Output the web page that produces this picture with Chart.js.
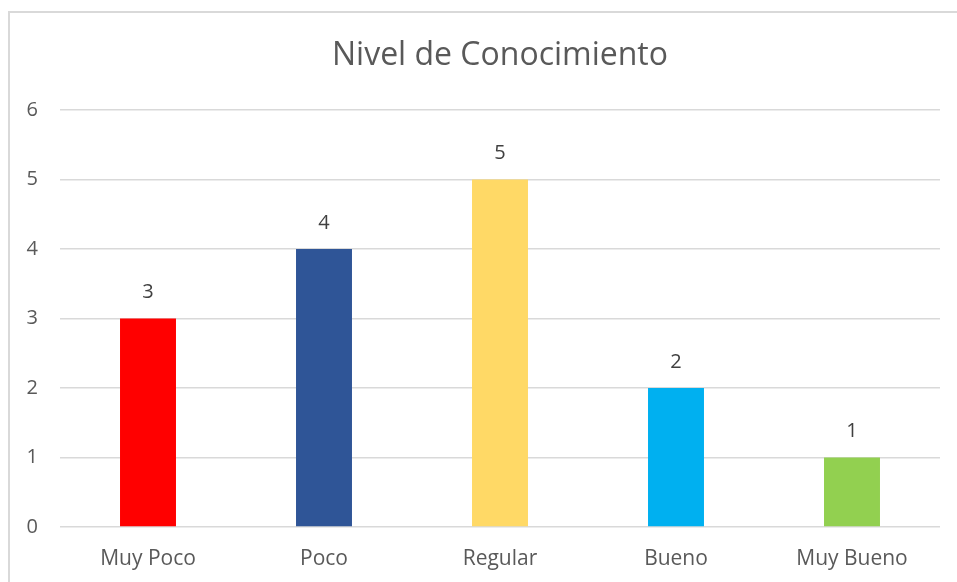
<!DOCTYPE html>
<html>
<head>
<meta charset="utf-8">
<script src="https://cdn.jsdelivr.net/npm/chart.js@4"></script>
<style>
  html, body { margin: 0; padding: 0; background: #fff; }
  #wrap { width: 957px; height: 582px; position: relative; }
</style>
</head>
<body>
<div id="wrap"><canvas id="myBarChart" width="957" height="582"></canvas></div>
<script>
// data
var categories = ["Muy Poco", "Poco", "Regular", "Bueno", "Muy Bueno"];
var values = [3, 4, 5, 2, 1];
var barColors = ["#FF0000", "#2F5597", "#FFD966", "#00B0F0", "#92D050"];
var yTicks = [0, 1, 2, 3, 4, 5, 6];
var chartTitle = "Nivel de Conocimiento";

var FONT = "'Open Sans', sans-serif";

// outer frame, cut off at right and bottom like the screenshot
var framePlugin = {
    id: 'frame',
    beforeDraw: function (chart) {
        var c = chart.ctx;
        c.save();
        c.strokeStyle = '#D9D9D9';
        c.lineWidth = 2;
        c.strokeRect(9, 12, 1000, 700);
        c.restore();
    }
};

// title and value labels
var labelPlugin = {
    id: 'labels',
    afterDatasetsDraw: function (chart) {
        var c = chart.ctx;
        c.save();
        c.fillStyle = '#595959';
        c.textAlign = 'center';
        c.textBaseline = 'middle';
        c.font = '32px ' + FONT;
        c.fillText(chartTitle, (chart.chartArea.left + chart.chartArea.right) / 2, 56);
        c.font = '20px ' + FONT;
        c.fillStyle = '#404040';
        chart.getDatasetMeta(0).data.forEach(function (bar, i) {
            c.fillText(String(values[i]), bar.x, bar.y - 26);
        });
        c.restore();
    }
};

var ctx = document.getElementById("myBarChart").getContext('2d');
var myBarChart = new Chart(ctx, {
    type: 'bar',
    data: {
        labels: categories,
        datasets: [{
            data: values,
            backgroundColor: barColors,
            barPercentage: 0.318,
            categoryPercentage: 1.0
        }]
    },
    options: {
        responsive: false,
        animation: false,
        layout: { padding: { top: 110, right: 17, bottom: 0, left: 0 } },
        plugins: {
            legend: { display: false },
            title: { display: false },
            tooltip: { enabled: false }
        },
        scales: {
            x: {
                grid: { display: false, drawTicks: false },
                border: { display: false },
                ticks: { color: '#595959', font: { family: FONT, size: 21 }, padding: 19 },
                afterFit: function (s) { s.height = 55; }
            },
            y: {
                min: 0,
                max: 6,
                afterBuildTicks: function (s) { s.ticks = yTicks.map(function (v) { return { value: v }; }); },
                grid: { color: '#D9D9D9', lineWidth: 1.5, drawTicks: false },
                border: { display: false },
                ticks: { color: '#595959', font: { family: FONT, size: 20 }, padding: 22 },
                afterFit: function (s) { s.width = 60; }
            }
        }
    },
    plugins: [framePlugin, labelPlugin]
});
</script>
</body>
</html>
